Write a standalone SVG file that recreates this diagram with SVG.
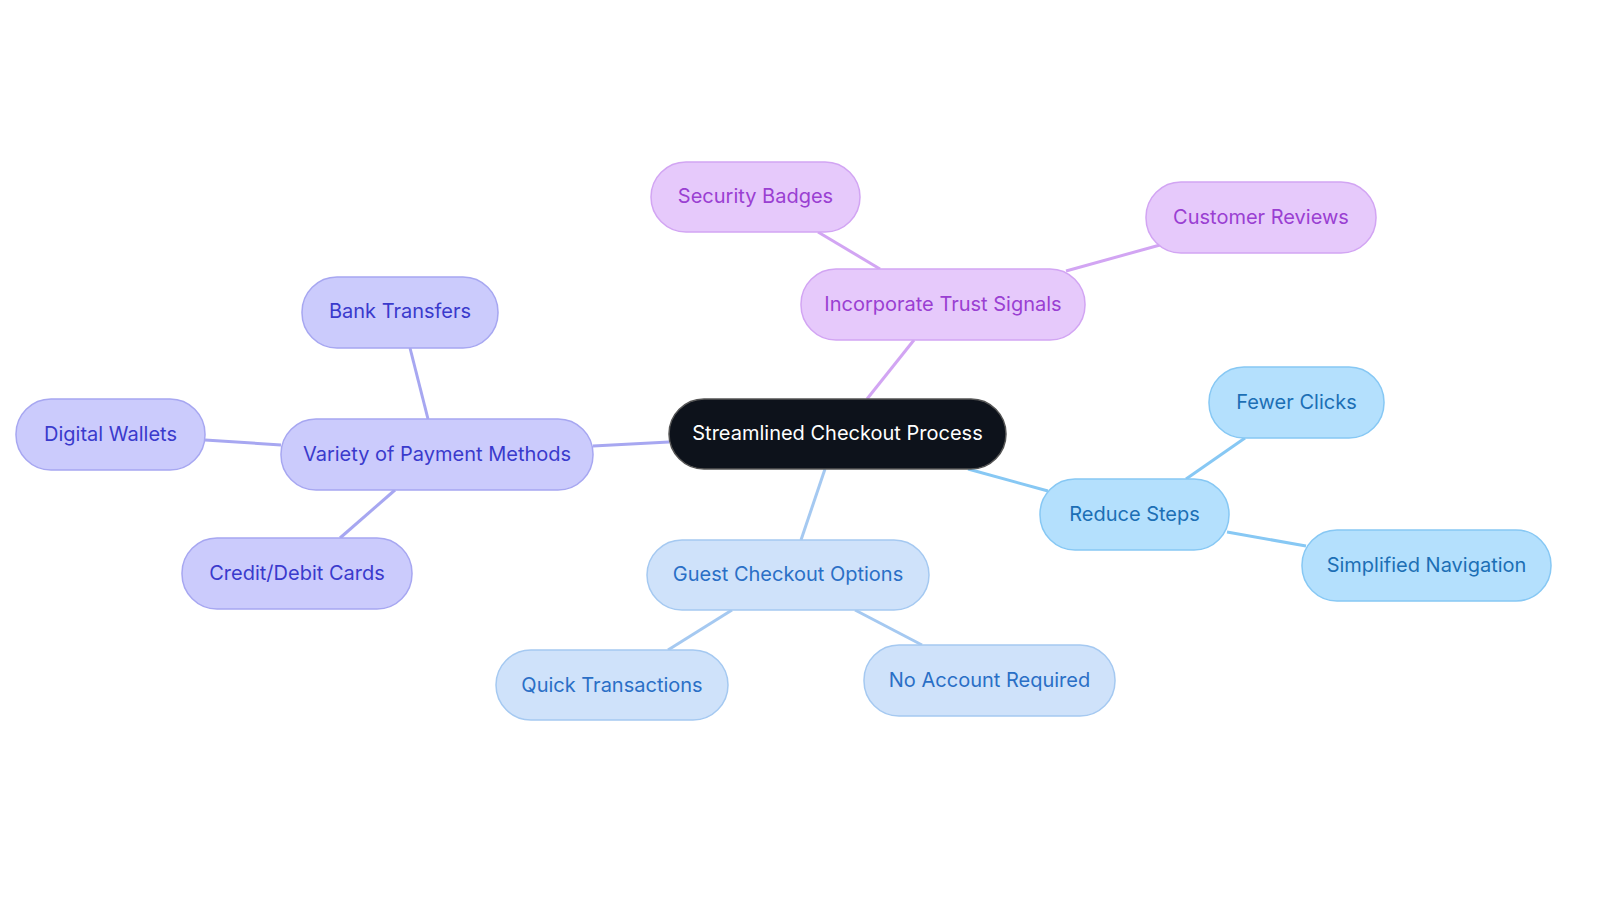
<svg xmlns="http://www.w3.org/2000/svg" width="1600" height="903" viewBox="0 0 1600 903">
<style>
text{font-family:Inter,"Noto Sans",sans-serif;font-size:20px;text-anchor:middle;dominant-baseline:central}
rect{stroke-width:1.5}
.p rect{fill:#e6c9fb;stroke:#d2a5f3}.p text{fill:#9a3fd2}
.v rect{fill:#cbcbfc;stroke:#a7a7f1}.v text{fill:#3a3acc}
.b rect{fill:#b4e0fd;stroke:#87c8f4}.b text{fill:#1c6fb5}
.l rect{fill:#cfe2fa;stroke:#a5c9f1}.l text{fill:#2a6fc6}
.c line{stroke-width:3}
</style>
<rect width="1600" height="903" fill="#fff"/>
<g class="c">
<line x1="867" y1="399" x2="914" y2="340" stroke="#d2a5f3"/>
<line x1="880" y1="269" x2="818" y2="232" stroke="#d2a5f3"/>
<line x1="1066" y1="271" x2="1160" y2="245" stroke="#d2a5f3"/>
<line x1="669" y1="442" x2="593" y2="446" stroke="#a7a7f1"/>
<line x1="428" y1="419" x2="410" y2="348" stroke="#a7a7f1"/>
<line x1="281" y1="445" x2="205" y2="440" stroke="#a7a7f1"/>
<line x1="395" y1="490" x2="340" y2="538" stroke="#a7a7f1"/>
<line x1="968" y1="469" x2="1048" y2="491" stroke="#87c8f4"/>
<line x1="1186" y1="479" x2="1245" y2="438" stroke="#87c8f4"/>
<line x1="1227" y1="532" x2="1306" y2="546" stroke="#87c8f4"/>
<line x1="825" y1="469" x2="801" y2="540" stroke="#a5c9f1"/>
<line x1="732" y1="610" x2="668" y2="650" stroke="#a5c9f1"/>
<line x1="855" y1="610" x2="922" y2="645" stroke="#a5c9f1"/>
</g>
<g id="center"><rect x="669" y="399" width="337" height="70" rx="35" fill="#0d121b" stroke="#555"/><text x="837.5" y="433" fill="#fff">Streamlined Checkout Process</text></g>
<g id="trust" class="p"><rect x="801" y="269" width="284" height="71" rx="35"/><text x="943" y="304">Incorporate Trust Signals</text></g>
<g id="security" class="p"><rect x="651" y="162" width="209" height="70" rx="35"/><text x="755.5" y="196">Security Badges</text></g>
<g id="reviews" class="p"><rect x="1146" y="182" width="230" height="71" rx="35"/><text x="1261" y="217">Customer Reviews</text></g>
<g id="payment" class="v"><rect x="281" y="419" width="312" height="71" rx="35"/><text x="437" y="454">Variety of Payment Methods</text></g>
<g id="bank" class="v"><rect x="302" y="277" width="196" height="71" rx="35"/><text x="400" y="311">Bank Transfers</text></g>
<g id="wallets" class="v"><rect x="16" y="399" width="189" height="71" rx="35"/><text x="110.5" y="434">Digital Wallets</text></g>
<g id="cards" class="v"><rect x="182" y="538" width="230" height="71" rx="35"/><text x="297" y="573">Credit/Debit Cards</text></g>
<g id="reduce" class="b"><rect x="1040" y="479" width="189" height="71" rx="35"/><text x="1134.5" y="514">Reduce Steps</text></g>
<g id="fewer" class="b"><rect x="1209" y="367" width="175" height="71" rx="35"/><text x="1296.5" y="402">Fewer Clicks</text></g>
<g id="nav" class="b"><rect x="1302" y="530" width="249" height="71" rx="35"/><text x="1426.5" y="565">Simplified Navigation</text></g>
<g id="guest" class="l"><rect x="647" y="540" width="282" height="70" rx="35"/><text x="788" y="574">Guest Checkout Options</text></g>
<g id="quick" class="l"><rect x="496" y="650" width="232" height="70" rx="35"/><text x="612" y="685">Quick Transactions</text></g>
<g id="noacc" class="l"><rect x="864" y="645" width="251" height="71" rx="35"/><text x="989.5" y="680">No Account Required</text></g>
</svg>
